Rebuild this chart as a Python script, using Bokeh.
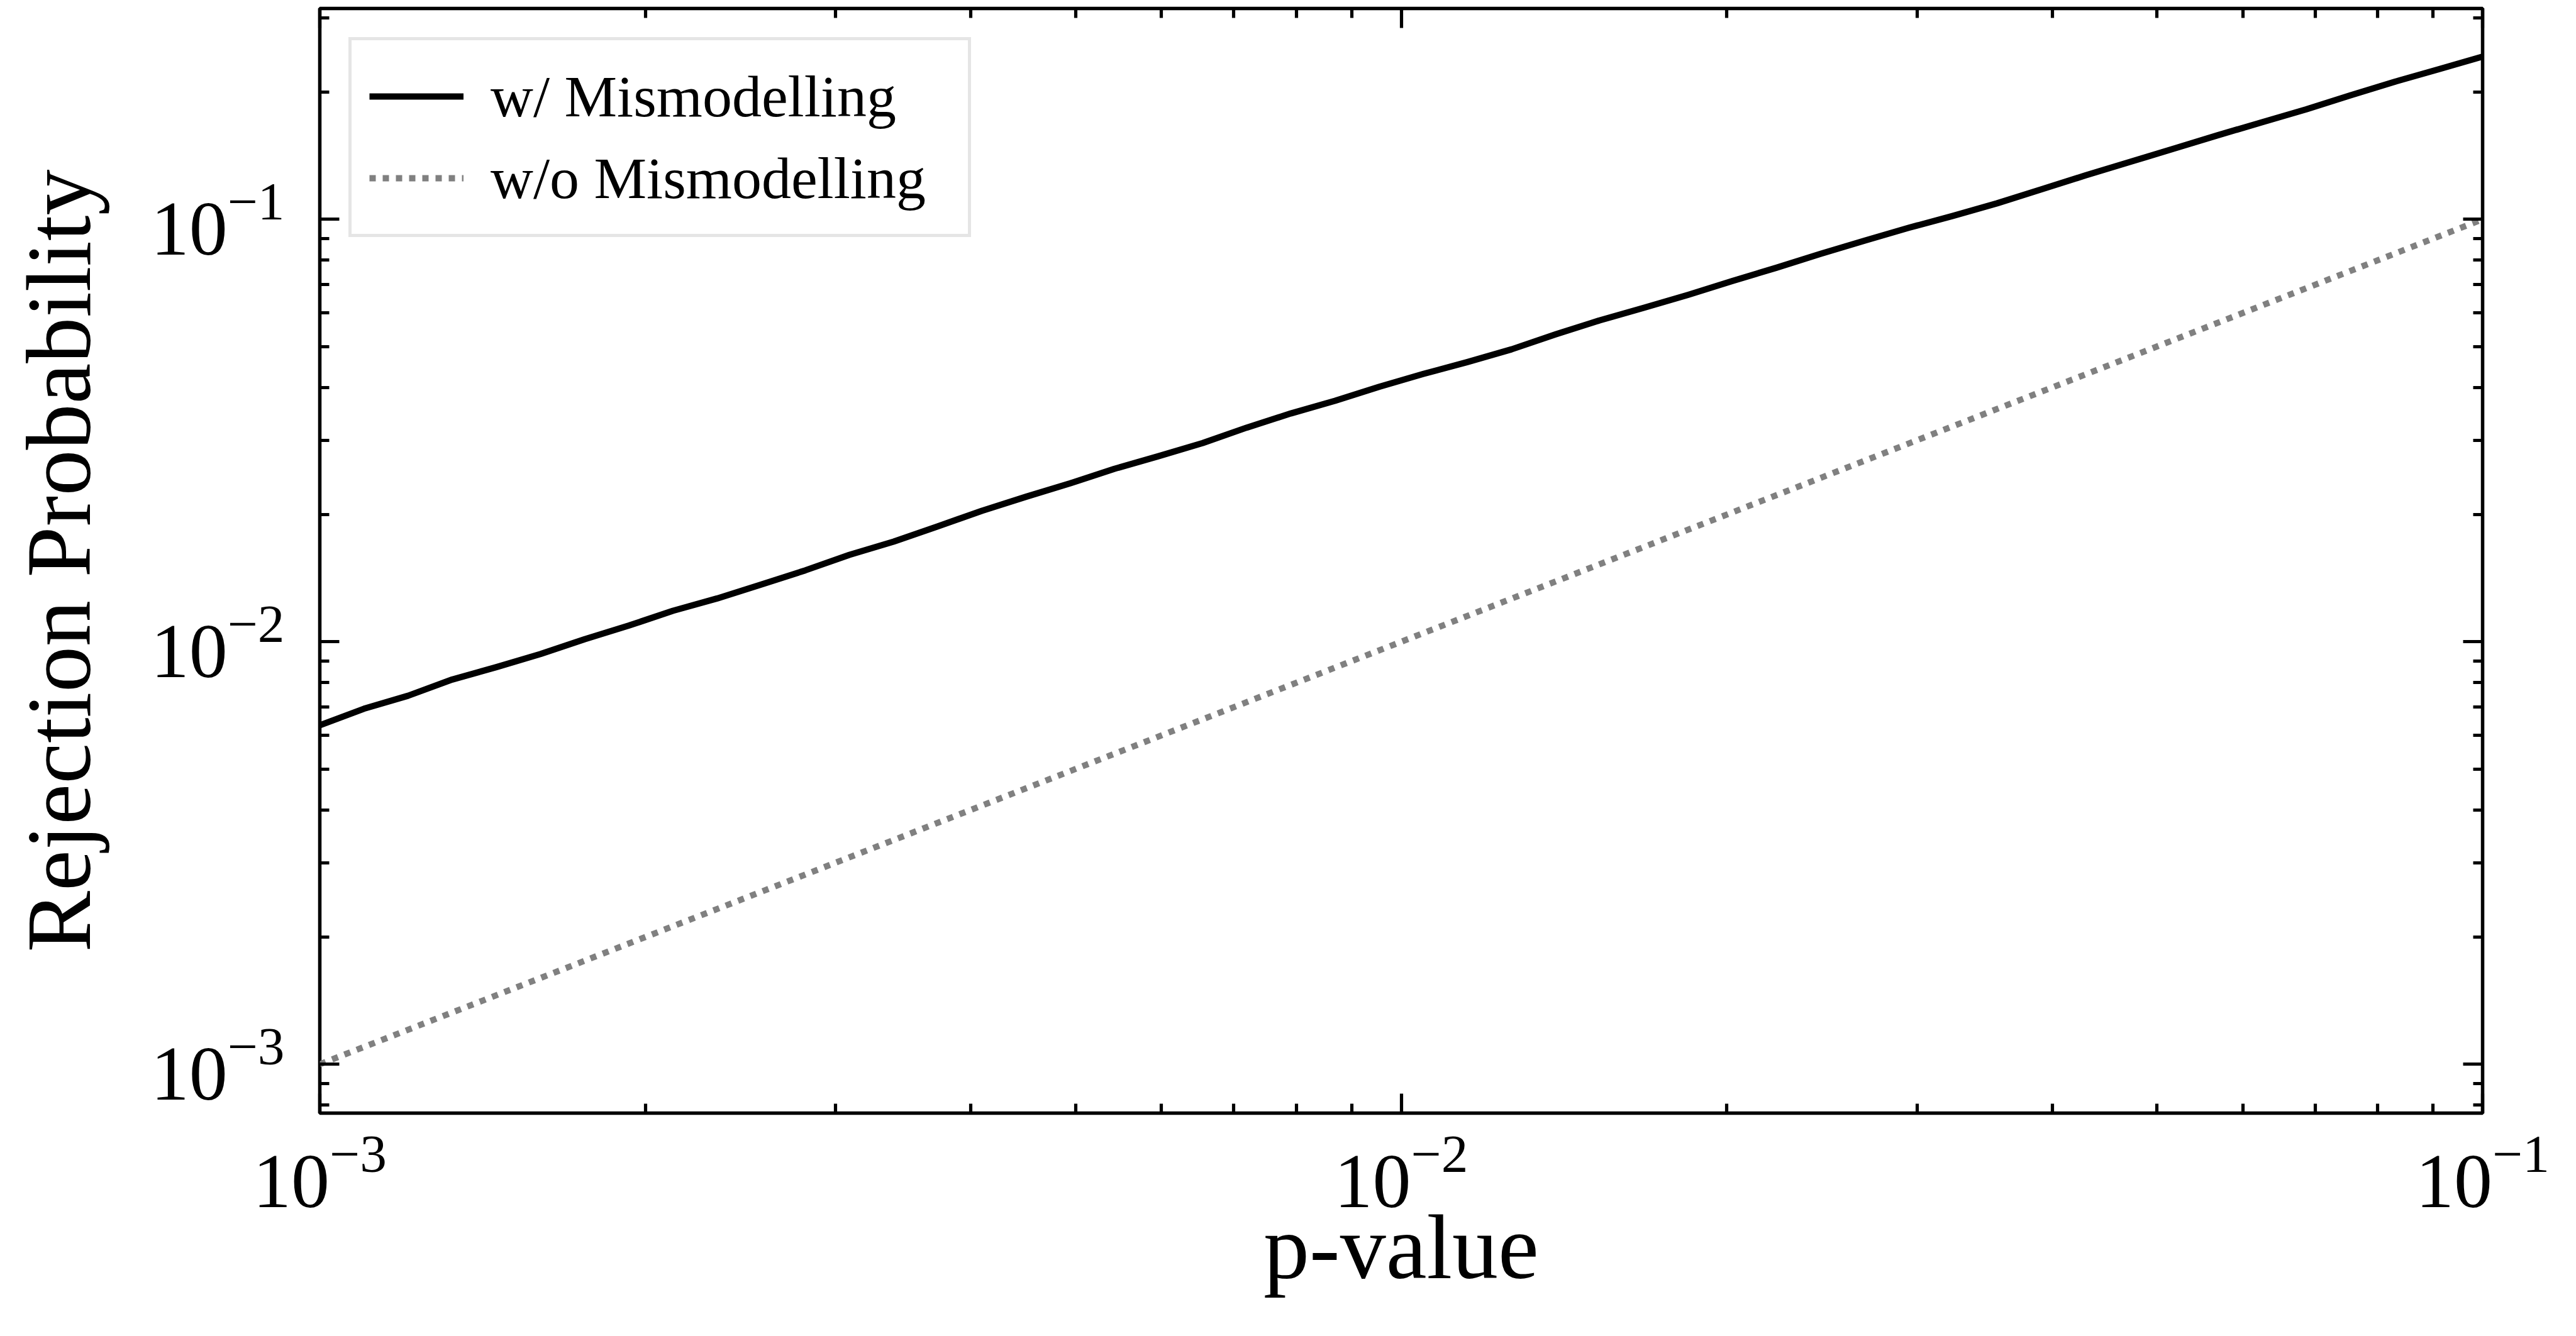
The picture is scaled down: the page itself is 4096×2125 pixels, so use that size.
from bokeh.plotting import figure
from bokeh.models import (Range1d, LogAxis, FixedTicker, LogTicker, LogTickFormatter,
                          CustomJSTickFormatter, Legend, LegendItem)
from bokeh.embed import file_html
from bokeh.resources import INLINE

# ---------------- data ----------------
p_values = [0.001, 0.0010985, 0.0012068, 0.0013257, 0.0014563, 0.0015999, 0.0017575,
            0.0019307, 0.0021210, 0.0023300, 0.0025595, 0.0028118, 0.0030888, 0.0033932,
            0.0037276, 0.0040949, 0.0044984, 0.0049417, 0.0054287, 0.0059636, 0.0065513,
            0.0071969, 0.0079060, 0.0086851, 0.0095410, 0.010481, 0.011514, 0.012649,
            0.013895, 0.015264, 0.016768, 0.018421, 0.020236, 0.022230, 0.024421, 0.026827,
            0.029471, 0.032375, 0.035565, 0.039069, 0.042919, 0.047149, 0.051795, 0.056899,
            0.062506, 0.068665, 0.075431, 0.082864, 0.091030, 0.1]
rate_with_mismodelling = [0.006344, 0.006941, 0.007450, 0.008140, 0.008708, 0.009352, 0.01014,
                          0.01092, 0.01184, 0.01266, 0.01366, 0.01476, 0.01606, 0.01726,
                          0.01875, 0.02042, 0.02204, 0.02371, 0.02566, 0.02749, 0.02953,
                          0.03213, 0.03471, 0.03718, 0.04013, 0.04305, 0.04592, 0.04923,
                          0.05342, 0.05765, 0.06176, 0.06624, 0.07142, 0.07679, 0.08283,
                          0.08902, 0.09548, 0.1019, 0.1091, 0.1177, 0.1270, 0.1366, 0.1469,
                          0.1581, 0.1697, 0.1820, 0.1965, 0.2115, 0.2265, 0.2427]
p_values_null = [0.001, 0.1]
rate_without_mismodelling = [0.001, 0.1]

x_major_ticks = [0.001, 0.01, 0.1]
x_minor_ticks = [0.002, 0.003, 0.004, 0.005, 0.006, 0.007, 0.008, 0.009,
                 0.02, 0.03, 0.04, 0.05, 0.06, 0.07, 0.08, 0.09]
y_major_ticks = [0.001, 0.01, 0.1]
y_minor_ticks = [0.0008, 0.0009,
                 0.002, 0.003, 0.004, 0.005, 0.006, 0.007, 0.008, 0.009,
                 0.02, 0.03, 0.04, 0.05, 0.06, 0.07, 0.08, 0.09, 0.2, 0.3]
labels = ["w/ Mismodelling", "w/o Mismodelling"]
x_label = "p-value"
y_label = "Rejection Probability"

FONT = "Liberation Serif"

p = figure(frame_width=3439, frame_height=1757,
           x_axis_type="log", y_axis_type="log",
           x_range=Range1d(0.001, 0.1), y_range=Range1d(7.66e-4, 0.3155),
           output_backend="svg", toolbar_location=None,
           min_border_left=508, min_border_right=149,
           min_border_top=13, min_border_bottom=355)

p.xgrid.visible = False
p.ygrid.visible = False
p.background_fill_color = "white"
p.border_fill_color = "white"
p.outline_line_color = "black"
p.outline_line_width = 5.5

bottom_axis = p.below[0]
left_axis = p.left[0]
right_axis = LogAxis()
top_axis = LogAxis()
p.add_layout(right_axis, "right")
p.add_layout(top_axis, "above")


def style_axis(ax, major, minor, show_labels):
    ax.ticker = FixedTicker(ticks=major, minor_ticks=minor)
    ax.axis_line_color = None
    ax.major_tick_in = 31
    ax.major_tick_out = 0
    ax.minor_tick_in = 15
    ax.minor_tick_out = 0
    ax.major_tick_line_width = 5.2
    ax.minor_tick_line_width = 5.2
    ax.major_tick_line_color = "black"
    ax.minor_tick_line_color = "black"
    if show_labels:
        ax.formatter = LogTickFormatter(ticker=LogTicker())
        ax.major_label_text_font = FONT
        ax.major_label_text_font_size = "122px"
        ax.major_label_text_color = "black"
    else:
        ax.formatter = CustomJSTickFormatter(code="return ''")
        ax.major_label_text_font_size = "1px"
        ax.major_label_standoff = 0


style_axis(bottom_axis, x_major_ticks, x_minor_ticks, True)
style_axis(top_axis, x_major_ticks, x_minor_ticks, False)
style_axis(left_axis, y_major_ticks, y_minor_ticks, True)
style_axis(right_axis, y_major_ticks, y_minor_ticks, False)

bottom_axis.major_label_standoff = 36
bottom_axis.axis_label = x_label
bottom_axis.axis_label_text_font = FONT
bottom_axis.axis_label_text_font_size = "146px"
bottom_axis.axis_label_text_font_style = "normal"
bottom_axis.axis_label_text_color = "black"
bottom_axis.axis_label_standoff = -20

left_axis.major_label_standoff = 56
left_axis.axis_label = y_label
left_axis.axis_label_text_font = FONT
left_axis.axis_label_text_font_size = "146px"
left_axis.axis_label_text_font_style = "normal"
left_axis.axis_label_text_color = "black"
left_axis.axis_label_standoff = 62

r_null = p.line(p_values_null, rate_without_mismodelling, line_color="#808080",
                line_width=9.8, line_dash="10 11", line_cap="butt")
r_mis = p.line(p_values, rate_with_mismodelling, line_color="black",
               line_width=10, line_join="round")

legend = Legend(items=[LegendItem(label=labels[0], renderers=[r_mis]),
                       LegendItem(label=labels[1], renderers=[r_null])],
                location="top_left", margin=46, padding=28, spacing=8,
                glyph_width=150, glyph_height=122, label_height=122,
                label_width=731, label_standoff=43,
                label_text_font=FONT, label_text_font_size="94px",
                label_text_color="black",
                border_line_color="#cccccc", border_line_width=5.8,
                background_fill_color="white", background_fill_alpha=1.0)
p.add_layout(legend, "center")

open("out.html", "w").write(file_html(p, INLINE))
